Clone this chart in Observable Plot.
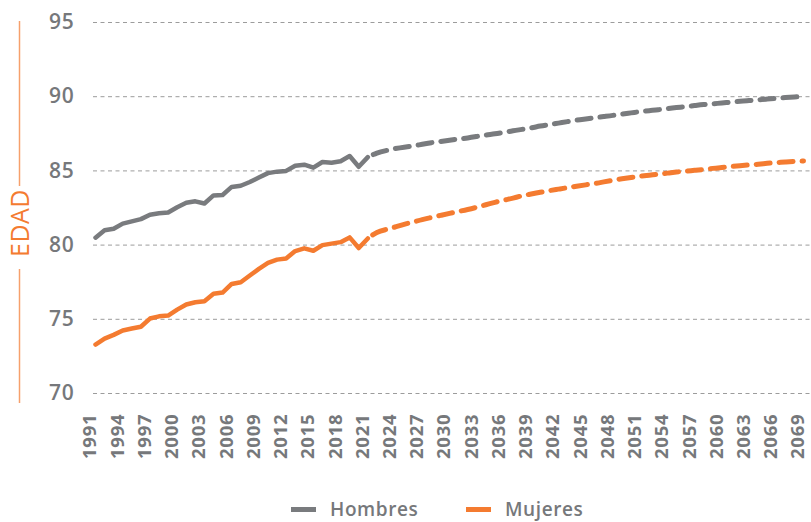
<!DOCTYPE html>
<html>
<head>
<meta charset="utf-8">
<script src="https://cdn.jsdelivr.net/npm/d3@7"></script>
<script src="https://cdn.jsdelivr.net/npm/@observablehq/plot@0.6"></script>
<style>
  html, body { margin: 0; padding: 0; background: #fff; }
  #wrap { position: relative; width: 811px; height: 522px; overflow: hidden; font-family: "Open Sans", sans-serif; }
  #legend { position: absolute; left: 0; top: 470px; width: 811px; height: 52px; }
  .item { position: absolute; top: 26px; display: flex; align-items: center; font-size: 19px; color: #76787b; font-weight: 600; letter-spacing: 0.6px; }
  .sw { width: 25px; height: 5px; margin-right: 14px; }
  #ylab { position: absolute; left: 0; top: 0; width: 40px; height: 420px; pointer-events: none; }
</style>
</head>
<body>
<div id="wrap">
  <div id="chart"></div>
  <svg id="ylab" width="40" height="420">
    <line x1="19.5" x2="19.5" y1="21" y2="186" stroke="#f6a06c" stroke-width="1.5"></line>
    <line x1="19.5" x2="19.5" y1="269" y2="403" stroke="#f6a06c" stroke-width="1.5"></line>
    <text transform="translate(28.5,223) rotate(-90)" text-anchor="middle" fill="#f47b30" font-size="25" font-weight="400" letter-spacing="0.5" font-family="Open Sans, sans-serif">EDAD</text>
  </svg>
  <div id="legend"></div>
</div>
<script>
// Series names and colours
const seriesNames = ["Hombres", "Mujeres"];
const seriesColors = ["#797b7e", "#f47b30"];

// Historical data 1991-2021
const histYears = d3.range(1991, 2022);
const histHombres = [80.5, 81.0, 81.1, 81.45, 81.6, 81.75, 82.05, 82.15, 82.2, 82.55,
  82.85, 82.95, 82.8, 83.35, 83.38, 83.92, 84.0, 84.25, 84.55, 84.85,
  84.95, 85.0, 85.35, 85.42, 85.22, 85.6, 85.55, 85.65, 86.0, 85.28, 85.93];
const histMujeres = [73.3, 73.7, 73.95, 74.25, 74.38, 74.5, 75.05, 75.2, 75.25, 75.65,
  76.0, 76.15, 76.22, 76.72, 76.8, 77.38, 77.5, 77.95, 78.4, 78.8,
  79.02, 79.1, 79.6, 79.78, 79.62, 80.0, 80.1, 80.2, 80.52, 79.8, 80.45];

// Projections 2021-2069
const projYears = d3.range(2021, 2070);
const projHombres = [85.93, 86.2, 86.37, 86.5, 86.6, 86.68, 86.8, 86.9, 86.98, 87.07,
  87.15, 87.22, 87.32, 87.42, 87.5, 87.6, 87.7, 87.8, 87.9, 88.02,
  88.12, 88.22, 88.32, 88.42, 88.5, 88.58, 88.66, 88.74, 88.83, 88.91,
  88.99, 89.06, 89.12, 89.2, 89.27, 89.33, 89.4, 89.47, 89.52, 89.58,
  89.63, 89.69, 89.74, 89.79, 89.84, 89.89, 89.94, 89.98, 90.03];
const projMujeres = [80.45, 80.85, 81.05, 81.22, 81.4, 81.56, 81.72, 81.86, 82.0, 82.14,
  82.27, 82.4, 82.55, 82.72, 82.88, 83.03, 83.17, 83.32, 83.44, 83.56,
  83.67, 83.77, 83.87, 83.97, 84.06, 84.15, 84.26, 84.37, 84.47, 84.56,
  84.64, 84.71, 84.78, 84.85, 84.92, 84.98, 85.04, 85.1, 85.17, 85.23,
  85.29, 85.35, 85.4, 85.45, 85.51, 85.56, 85.6, 85.64, 85.67];

// Tick labels
const yTicks = [70, 75, 80, 85, 90, 95];
const xTicks = d3.range(1991, 2070, 3);

const hist = [];
histYears.forEach((yr, i) => {
  hist.push({year: yr, value: histHombres[i], serie: "Hombres"});
  hist.push({year: yr, value: histMujeres[i], serie: "Mujeres"});
});
const proj = [];
projYears.forEach((yr, i) => {
  proj.push({year: yr, value: projHombres[i], serie: "Hombres"});
  proj.push({year: yr, value: projMujeres[i], serie: "Mujeres"});
});

const chart = Plot.plot({
  width: 811,
  height: 470,
  marginLeft: 93,
  marginRight: 0,
  marginTop: 22,
  marginBottom: 77,
  style: {fontFamily: "Open Sans, sans-serif", color: "#76787b", background: "#fff"},
  x: {domain: [1990.78, 2069.88]},
  y: {domain: [70, 95]},
  color: {domain: seriesNames, range: seriesColors},
  marks: [
    Plot.ruleY(yTicks, {stroke: "#9c9c9c", strokeWidth: 1, strokeDasharray: "4,3.5"}),
    Plot.axisY(yTicks, {tickSize: 0, tickPadding: 19, fontSize: 21, fontWeight: 600, label: null, tickFormat: d => String(d)}),
    Plot.axisX(xTicks, {tickSize: 0, tickPadding: 20, tickRotate: -90, fontSize: 18.5, fontWeight: 700, label: null, tickFormat: d => String(d), dx: -5}),
    Plot.line(hist, {x: "year", y: "value", z: "serie", stroke: "serie", strokeWidth: 4.5, strokeLinecap: "round", strokeLinejoin: "round"}),
    Plot.line(proj, {x: "year", y: "value", z: "serie", stroke: "serie", strokeWidth: 5, strokeDasharray: "14,9", strokeDashoffset: -6, strokeLinecap: "round", strokeLinejoin: "round", curve: "natural"})
  ]
});
chart.querySelectorAll("text").forEach(t => t.style.letterSpacing = "0.8px");
document.getElementById("chart").appendChild(chart);

// Legend
const legend = document.getElementById("legend");
const legendLeft = [291, 466];
seriesNames.forEach((name, i) => {
  const it = document.createElement("div");
  it.className = "item";
  it.style.left = legendLeft[i] + "px";
  const sw = document.createElement("div");
  sw.className = "sw";
  sw.style.background = seriesColors[i];
  const tx = document.createElement("span");
  tx.textContent = name;
  it.appendChild(sw);
  it.appendChild(tx);
  legend.appendChild(it);
});
</script>
</body>
</html>
